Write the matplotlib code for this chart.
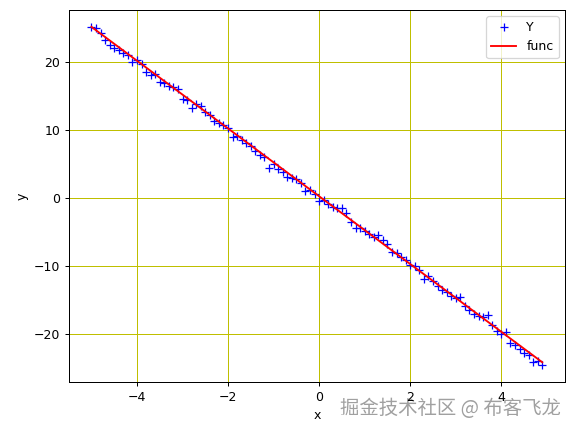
import numpy as np
import matplotlib.pyplot as plt

X = np.arange(-5.0, 5.0, 0.1)
Y = [25.1, 25.0, 24.2, 23.1, 22.4, 22.0, 21.7, 21.3, 20.9, 20.0,
     20.2, 19.6, 18.4, 18.0, 18.1, 17.0, 16.9, 16.4, 16.3, 15.9,
     14.5, 14.4, 13.1, 13.8, 13.5, 12.6, 12.1, 11.2, 11.0, 10.6,
     10.3, 8.9, 9.0, 8.4, 8.0, 7.6, 6.8, 6.3, 5.9, 4.4,
     4.9, 4.2, 3.8, 3.1, 2.9, 2.8, 2.2, 1.0, 1.1, 0.6,
     -0.5, -0.3, -0.9, -1.4, -1.6, -1.6, -2.2, -3.6, -4.4, -4.5,
     -4.9, -5.3, -5.8, -5.5, -6.3, -6.8, -8.0, -8.2, -8.7, -9.1,
     -9.9, -10.1, -10.7, -11.9, -11.5, -12.3, -13.0, -13.6, -13.9, -14.5,
     -14.8, -14.6, -15.9, -16.5, -17.1, -17.4, -17.6, -17.3, -18.7, -19.6,
     -20.1, -19.8, -21.3, -21.6, -22.3, -22.8, -23.2, -24.1, -24.0, -24.6]

# fitted line parameters
a_fit = -4.98
b_fit = 0.2


def func(x, a, b):
    return a * x + b


fig = plt.figure(figsize=(574 / 90, 432 / 90), dpi=90)
ax = fig.add_axes([0.120, 0.116, 0.864, 0.861])
ax.plot(X, Y, "b+", label="Y")
ax.plot(X, func(X, a_fit, b_fit), "r", label="func")
ax.set_xlabel("x")
ax.set_ylabel("y")
ax.grid(True, color="y")
ax.legend(loc="upper right")

# watermark, drawn under the axes so tick labels stay on top
fig.text(0.977, 0.055, "掘金技术社区 @ 布客飞龙", ha="right", va="center",
         fontsize=15.5, color="#a0a0a0", family=["Noto Sans CJK SC", "DejaVu Sans"],
         zorder=-1)

fig.savefig("out.png", dpi=90)
